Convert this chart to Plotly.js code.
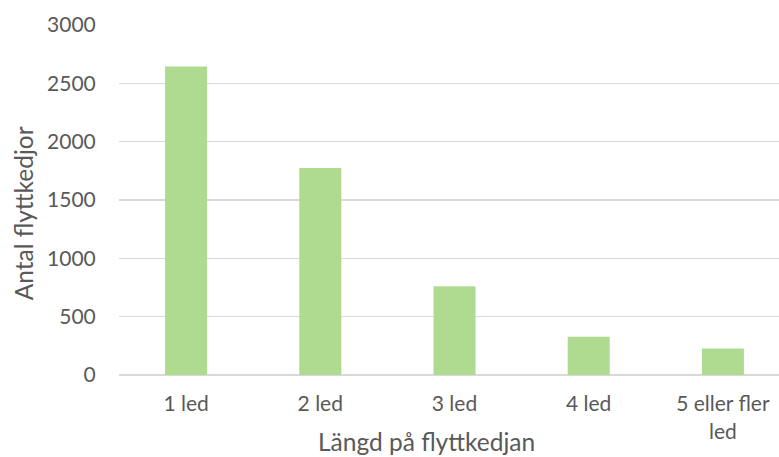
<!DOCTYPE html>
<html>
<head>
<meta charset="utf-8">
<script src="https://cdn.plot.ly/plotly-3.0.1.min.js"></script>
<style>
html,body{margin:0;padding:0;overflow:hidden;background:#fff;}
#chart{width:800px;height:457px;}
</style>
</head>
<body>
<div id="chart"></div>
<script>
var categories = ["1 led", "2 led", "3 led", "4 led", "5 eller fler<br>led"];
var values = [2644, 1774, 760, 328, 228];
var yTicks = [0, 500, 1000, 1500, 2000, 2500, 3000];
var xTitle = "Längd på flyttkedjan";
var yTitle = "Antal flyttkedjor";

var FONT = "Lato, 'Open Sans', sans-serif";
var TXT = "#595959";

var trace = {
  type: "bar",
  x: categories,
  y: values,
  marker: {color: "#aedb8f", line: {width: 0}},
  hoverinfo: "x+y"
};

var layout = {
  width: 800,
  height: 457,
  margin: {l: 119, r: 10, t: 25, b: 82},
  paper_bgcolor: "#ffffff",
  plot_bgcolor: "#ffffff",
  bargap: 0.687,
  showlegend: false,
  font: {family: FONT, size: 21, color: TXT},
  xaxis: {
    type: "category",
    showgrid: false,
    showline: false,
    zeroline: false,
    ticks: "outside",
    ticklen: 10,
    tickcolor: "rgba(0,0,0,0)",
    tickfont: {family: FONT, size: 21, color: TXT}
  },
  yaxis: {
    range: [0, 3000],
    tickvals: yTicks,
    ticktext: yTicks.map(String),
    showgrid: true,
    gridcolor: "#d9d9d9",
    gridwidth: 1.5,
    zeroline: true,
    zerolinecolor: "#d9d9d9",
    zerolinewidth: 1.5,
    showline: false,
    ticks: "outside",
    ticklen: 18,
    tickcolor: "rgba(0,0,0,0)",
    tickfont: {family: FONT, size: 21, color: TXT}
  },
  annotations: [
    {
      text: xTitle, xref: "paper", yref: "paper",
      x: (426 - 119) / 671, y: -(441 - 374.5) / 349.5,
      xanchor: "center", yanchor: "middle", showarrow: false,
      font: {family: FONT, size: 24.5, color: TXT}
    },
    {
      text: yTitle, xref: "paper", yref: "paper",
      x: (23 - 119) / 671, y: (374.5 - 213) / 349.5,
      xanchor: "center", yanchor: "middle", showarrow: false, textangle: -90,
      font: {family: FONT, size: 24.5, color: TXT}
    }
  ]
};

Plotly.newPlot("chart", [trace], layout, {displayModeBar: false, staticPlot: true});
</script>
</body>
</html>
